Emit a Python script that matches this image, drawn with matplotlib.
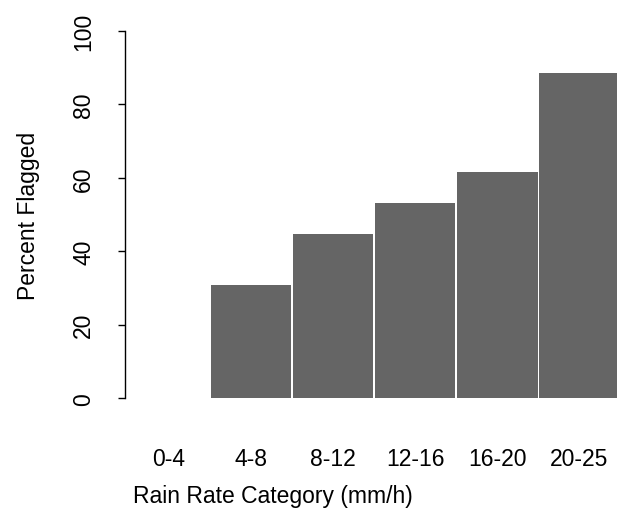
import matplotlib.pyplot as plt

categories = ["0-4", "4-8", "8-12", "12-16", "16-20", "20-25"]
percent_flagged = [0.0, 30.9, 44.6, 53.0, 61.5, 88.5]
y_ticks = [0, 20, 40, 60, 80, 100]

plt.rcParams['font.family'] = ['Liberation Sans', 'DejaVu Sans']

fig = plt.figure(figsize=(6.17, 5.10), dpi=100)
ax = fig.add_axes([125 / 617, 0.1882, 1 - 125 / 617, 0.7784])

x = range(len(categories))
ax.bar(x, percent_flagged, width=0.98, color='#656565', linewidth=0)

ax.set_xlim(-0.535, 5.458)
ax.set_ylim(-4, 104)

# R-style axes: only the left axis, clipped to the tick range
for side in ['top', 'right', 'bottom']:
    ax.spines[side].set_visible(False)
ax.spines['left'].set_bounds(0, 100)
ax.spines['left'].set_linewidth(1.0)

ax.set_yticks(y_ticks)
ax.set_yticklabels([str(t) for t in y_ticks], rotation=90, va='center')
ax.tick_params(axis='y', length=5, width=1.0, pad=16.5, labelsize=16.5)

ax.set_xticks(list(x))
ax.set_xticklabels(categories)
ax.tick_params(axis='x', length=0, pad=24.5, labelsize=16.5)

fig.text(273 / 617, 7 / 510, "Rain Rate Category (mm/h)", ha='center',
         va='baseline', fontsize=16.5)
fig.text(35 / 617, 294 / 510, "Percent Flagged", rotation=90,
         rotation_mode='anchor', ha='center', va='baseline', fontsize=16.5)

fig.savefig("out.png", dpi=100)
